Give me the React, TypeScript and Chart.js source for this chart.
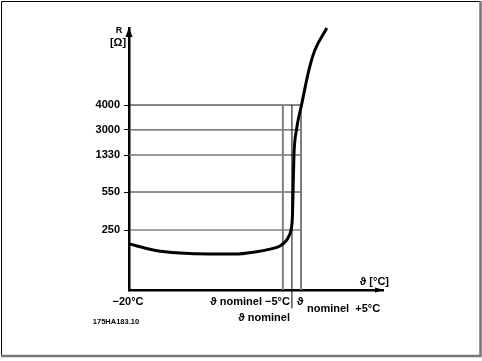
import React, { useEffect, useRef } from 'react';
import { Chart, registerables } from 'chart.js';

Chart.register(...registerables);

// Temperature axis (°C), schematic
const tempMin = -20;
const tempMax = 120.3;
const tempNominal = 70;
const tempBand = 5;

// Resistance axis (schematic levels) with their labels
const levelMax = 100;
const yTickLevels = [22.9, 37.4, 51.5, 61.1, 70.6];
const yTickLabels = ['250', '550', '1330', '3000', '4000'];
const gridColors = ['#444', '#222', '#777', '#555', '#111'];
const gridWidths = [1, 1, 1.6, 1.2, 1];

// PTC curve: temperature vs schematic level
const curveTemps = [-20, -6.7, 8.2, 24.7, 38.5, 49.6, 57.9, 63.4, 66.7, 68.3, 69.5, 70.3, 70.6, 71.1, 72.5, 75.3, 79.4, 82.7, 89.3];
const curveLevels = [17.6, 15.3, 14.1, 13.7, 13.7, 14.5, 15.6, 16.8, 18.7, 20.6, 22.9, 28.6, 37.0, 51.1, 61.1, 70.6, 84.0, 91.6, 100];

const FONT = "'Liberation Sans', Arial, sans-serif";

export default function App() {
  const ref = useRef<HTMLCanvasElement | null>(null);

  useEffect(() => {
    if (!ref.current) return;
    const topLevel = yTickLevels[yTickLevels.length - 1];

    const datasets: any[] = [
      {
        label: 'curve',
        data: curveTemps.map((t, i) => ({ x: t, y: curveLevels[i] })),
        borderColor: '#000',
        borderWidth: 3,
        pointRadius: 0,
        cubicInterpolationMode: 'monotone',
        clip: false,
        order: 0,
      },
    ];
    yTickLevels.forEach((lv, i) => {
      datasets.push({
        label: 'h' + i,
        data: [{ x: tempMin, y: lv }, { x: tempNominal + tempBand, y: lv }],
        borderColor: gridColors[i],
        borderWidth: gridWidths[i],
        pointRadius: 0,
        clip: false,
        order: 2,
      });
    });
    datasets.push({
      label: 'vMinus',
      data: [{ x: tempNominal - tempBand, y: 0 }, { x: tempNominal - tempBand, y: topLevel }],
      borderColor: '#808080',
      borderWidth: 2,
      pointRadius: 0,
      clip: false,
      order: 1,
    });
    datasets.push({
      label: 'vNom',
      data: [{ x: tempNominal, y: -7 }, { x: tempNominal, y: topLevel }],
      borderColor: '#000',
      borderWidth: 1,
      pointRadius: 0,
      clip: false,
      order: 1,
    });
    datasets.push({
      label: 'vPlus',
      data: [{ x: tempNominal + tempBand, y: 0 }, { x: tempNominal + tempBand, y: topLevel }],
      borderColor: '#808080',
      borderWidth: 2,
      pointRadius: 0,
      clip: false,
      order: 1,
    });

    const decor = {
      id: 'decor',
      afterDraw(chart: any) {
        const ctx = chart.ctx;
        const xs = chart.scales.x;
        const ys = chart.scales.y;
        const ca = chart.chartArea;
        ctx.save();
        // arrows
        ctx.fillStyle = '#000';
        ctx.beginPath();
        ctx.moveTo(ca.left, ca.top - 1);
        ctx.lineTo(ca.left - 3.5, ca.top + 9);
        ctx.lineTo(ca.left + 3.5, ca.top + 9);
        ctx.closePath();
        ctx.fill();
        ctx.beginPath();
        ctx.moveTo(ca.right + 1, ca.bottom);
        ctx.lineTo(ca.right - 8, ca.bottom - 2.5);
        ctx.lineTo(ca.right - 8, ca.bottom + 2.5);
        ctx.closePath();
        ctx.fill();

        // texts
        ctx.fillStyle = '#000';
        ctx.textBaseline = 'middle';
        const pN = xs.getPixelForValue(tempNominal);
        const pMin = xs.getPixelForValue(tempMin);
        const yAx = ys.getPixelForValue(0);

        ctx.font = `bold 9px ${FONT}`;
        ctx.textAlign = 'center';
        ctx.fillText('R', ca.left - 10, ca.top + 3);
        ctx.font = `bold 11px ${FONT}`;
        ctx.fillText('[Ω]', ca.left - 11, ca.top + 15);

        ctx.textAlign = 'right';
        ctx.fillText('ϑ [°C]', ca.right + 6, yAx - 8);

        ctx.textAlign = 'center';
        ctx.fillText('−20°C', pMin - 1, yAx + 12);
        ctx.textAlign = 'right';
        ctx.fillText('ϑ nominel −5°C', pN - 2, yAx + 12);
        ctx.fillText('ϑ nominel', pN - 2, yAx + 28);
        ctx.textAlign = 'left';
        ctx.fillText('ϑ', pN + 5, yAx + 12);
        ctx.fillText('nominel  +5°C', pN + 15, yAx + 19);

        ctx.font = `bold 7.5px ${FONT}`;
        ctx.textAlign = 'center';
        ctx.fillText('175HA183.10', pMin - 13, yAx + 32);

        // frame
        ctx.strokeStyle = '#000';
        ctx.lineWidth = 1;
        ctx.beginPath();
        ctx.moveTo(1.5, 356);
        ctx.lineTo(1.5, 1.5);
        ctx.lineTo(480, 1.5);
        ctx.stroke();
        ctx.strokeStyle = '#777';
        ctx.lineWidth = 2.5;
        ctx.beginPath();
        ctx.moveTo(1, 356);
        ctx.lineTo(480.5, 356);
        ctx.lineTo(480.5, 1);
        ctx.stroke();
        ctx.restore();
      },
    };

    const chart = new Chart(ref.current, {
      type: 'line',
      data: { datasets },
      options: {
        animation: false,
        responsive: false,
        maintainAspectRatio: false,
        layout: { padding: { left: 0, top: 28, right: 99, bottom: 71 } },
        plugins: { legend: { display: false }, tooltip: { enabled: false } },
        scales: {
          x: {
            type: 'linear',
            min: tempMin,
            max: tempMax,
            grid: { display: false, drawTicks: false },
            ticks: { display: false },
            border: { display: true, color: '#000', width: 2.5 },
            afterFit: (scale: any) => {
              scale.height = 0;
            },
          },
          y: {
            type: 'linear',
            min: 0,
            max: levelMax,
            afterBuildTicks: (scale: any) => {
              scale.ticks = yTickLevels.map((v) => ({ value: v }));
            },
            afterFit: (scale: any) => {
              scale.width = 129;
            },
            ticks: {
              callback: (_v: any, i: number) => yTickLabels[i],
              color: '#000',
              font: { family: FONT, size: 11, weight: 'bold' },
              padding: 4,
            },
            grid: {
              drawOnChartArea: false,
              drawTicks: true,
              tickLength: 5,
              color: '#000',
              lineWidth: 1,
            },
            border: { display: true, color: '#000', width: 2.5 },
          },
        },
      } as any,
      plugins: [decor],
    });
    return () => chart.destroy();
  }, []);

  return (
    <div style={{ position: 'absolute', left: 0, top: 0, width: 482, height: 361, background: '#fff' }}>
      <canvas ref={ref} width={482} height={361} style={{ display: 'block', width: 482, height: 361 }} />
    </div>
  );
}
